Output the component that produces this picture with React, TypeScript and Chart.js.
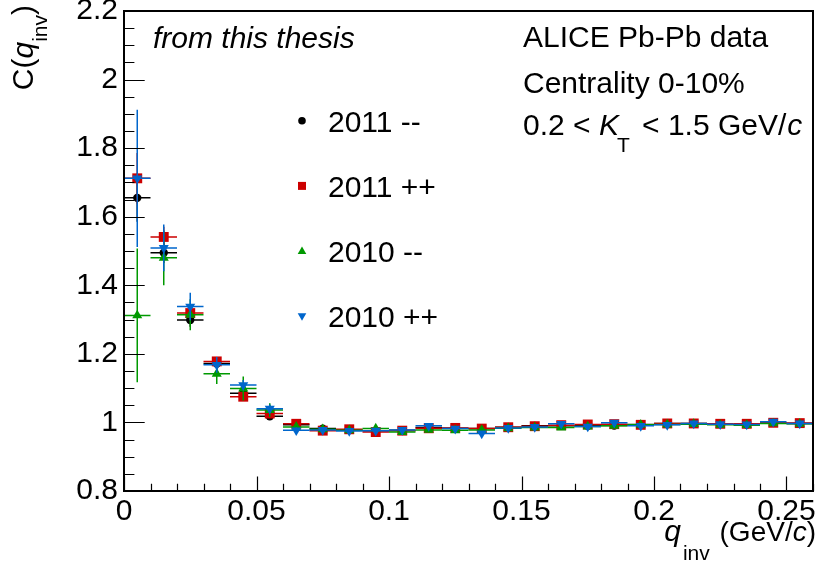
import React, { useEffect, useRef } from "react";
import { Chart, registerables } from "chart.js";

Chart.register(...registerables);

// ---- data ----
const Q_INV = [
  0.005, 0.015, 0.025, 0.035, 0.045, 0.055, 0.065, 0.075, 0.085, 0.095, 0.105, 0.115, 0.125,
  0.135, 0.145, 0.155, 0.165, 0.175, 0.185, 0.195, 0.205, 0.215, 0.225, 0.235, 0.245, 0.255,
];
const HALF_BIN = 0.005;

const C_2011_MM = [
  1.655, 1.495, 1.299, 1.172, 1.085, 1.018, 0.993, 0.982, 0.978, 0.976, 0.977, 0.985, 0.983,
  0.982, 0.986, 0.99, 0.99, 0.99, 0.991, 0.994, 0.997, 0.997, 0.995, 0.994, 0.999, 0.997,
];
const E_2011_MM = [
  0.07, 0.03, 0.02, 0.012, 0.01, 0.008, 0.006, 0.005, 0.005, 0.005, 0.005, 0.005, 0.005,
  0.005, 0.005, 0.005, 0.005, 0.005, 0.005, 0.005, 0.005, 0.005, 0.005, 0.005, 0.005, 0.005,
];
const C_2011_PP = [
  1.712, 1.541, 1.319, 1.178, 1.075, 1.026, 0.996, 0.976, 0.98, 0.972, 0.976, 0.983, 0.984,
  0.982, 0.986, 0.989, 0.992, 0.994, 0.995, 0.993, 0.997, 0.997, 0.996, 0.996, 0.999, 0.998,
];
const E_2011_PP = [
  0.074, 0.03, 0.02, 0.012, 0.01, 0.008, 0.006, 0.005, 0.005, 0.005, 0.005, 0.005, 0.005,
  0.005, 0.005, 0.005, 0.005, 0.005, 0.005, 0.005, 0.005, 0.005, 0.005, 0.005, 0.005, 0.005,
];
const C_2010_MM = [
  1.312, 1.48, 1.314, 1.142, 1.099, 1.036, 0.987, 0.98, 0.977, 0.982, 0.972, 0.978, 0.977,
  0.978, 0.983, 0.985, 0.985, 0.988, 0.99, 0.993, 0.994, 0.995, 0.993, 0.992, 0.997, 0.996,
];
const E_2010_MM = [
  0.195, 0.08, 0.045, 0.03, 0.035, 0.02, 0.012, 0.01, 0.008, 0.007, 0.007, 0.007, 0.007,
  0.007, 0.007, 0.007, 0.007, 0.007, 0.007, 0.007, 0.007, 0.007, 0.007, 0.007, 0.007, 0.007,
];
const C_2010_PP = [
  1.712, 1.509, 1.338, 1.168, 1.109, 1.04, 0.977, 0.978, 0.975, 0.976, 0.978, 0.99, 0.982,
  0.968, 0.984, 0.987, 0.996, 0.988, 0.999, 0.99, 0.993, 0.997, 0.995, 0.994, 1.002, 0.997,
];
const E_2010_PP = [
  0.2, 0.068, 0.04, 0.023, 0.015, 0.012, 0.008, 0.006, 0.006, 0.006, 0.006, 0.006, 0.006,
  0.006, 0.006, 0.006, 0.006, 0.006, 0.006, 0.006, 0.006, 0.006, 0.006, 0.006, 0.006, 0.006,
];

const SERIES_LABELS = ["2011 --", "2011 ++", "2010 --", "2010 ++"];
const X_TICKS = [0, 0.05, 0.1, 0.15, 0.2, 0.25];
const Y_TICKS = [0.8, 1, 1.2, 1.4, 1.6, 1.8, 2, 2.2];
const X_MINOR_STEP = 0.01;
const Y_MINOR_STEP = 0.05;

// ---- styles ----
const FONT = "'Liberation Sans', Arial, Helvetica, sans-serif";
const COLORS = ["#000000", "#cc0000", "#009900", "#0066cc"];
const STYLES = [
  { pointStyle: "circle", radius: 4.2, rotation: 0 },
  { pointStyle: "rect", radius: 7, rotation: 0 },
  { pointStyle: "triangle", radius: 5.8, rotation: 0 },
  { pointStyle: "triangle", radius: 5.8, rotation: 180 },
];
const VALUES = [C_2011_MM, C_2011_PP, C_2010_MM, C_2010_PP];
const ERRORS = [E_2011_MM, E_2011_PP, E_2010_MM, E_2010_PP];

const fmt = (v: number) => String(Number(v.toFixed(3)));

const errorBarPlugin = {
  id: "errorBars",
  beforeDatasetDraw(chart: any, args: any) {
    const i = args.index;
    const ds = chart.data.datasets[i];
    const errs: number[] = ds.errors;
    const xs = chart.scales.x;
    const ys = chart.scales.y;
    const ctx = chart.ctx;
    const a = chart.chartArea;
    ctx.save();
    ctx.beginPath();
    ctx.rect(a.left, a.top, a.right - a.left, a.bottom - a.top);
    ctx.clip();
    ctx.strokeStyle = ds.borderColor;
    ctx.lineWidth = 1.5;
    ds.data.forEach((p: any, j: number) => {
      const x = xs.getPixelForValue(p.x);
      const y = ys.getPixelForValue(p.y);
      ctx.beginPath();
      ctx.moveTo(xs.getPixelForValue(p.x - HALF_BIN), y);
      ctx.lineTo(xs.getPixelForValue(p.x + HALF_BIN), y);
      ctx.moveTo(x, ys.getPixelForValue(p.y - errs[j]));
      ctx.lineTo(x, ys.getPixelForValue(p.y + errs[j]));
      ctx.stroke();
    });
    ctx.restore();
  },
};

function drawMarker(ctx: CanvasRenderingContext2D, kind: number, x: number, y: number, color: string) {
  ctx.fillStyle = color;
  ctx.beginPath();
  if (kind === 0) {
    ctx.arc(x, y, 3.8, 0, Math.PI * 2);
  } else if (kind === 1) {
    ctx.rect(x - 4, y - 4, 8, 8);
  } else if (kind === 2) {
    ctx.moveTo(x, y - 4.5);
    ctx.lineTo(x + 4.3, y + 3);
    ctx.lineTo(x - 4.3, y + 3);
    ctx.closePath();
  } else {
    ctx.moveTo(x, y + 4.5);
    ctx.lineTo(x + 4.3, y - 3);
    ctx.lineTo(x - 4.3, y - 3);
    ctx.closePath();
  }
  ctx.fill();
}

type Run = { t: string; italic?: boolean; size?: number; dy?: number; dx?: number };

function runsWidth(ctx: CanvasRenderingContext2D, runs: Run[]) {
  let w = 0;
  for (const r of runs) {
    ctx.font = `${r.italic ? "italic " : ""}${r.size || 30}px ${FONT}`;
    w += (r.dx || 0) + ctx.measureText(r.t).width;
  }
  return w;
}

function drawRuns(ctx: CanvasRenderingContext2D, runs: Run[], x: number, y: number) {
  let cx = x;
  for (const r of runs) {
    ctx.font = `${r.italic ? "italic " : ""}${r.size || 30}px ${FONT}`;
    cx += r.dx || 0;
    ctx.fillText(r.t, cx, y + (r.dy || 0));
    cx += ctx.measureText(r.t).width;
  }
}

const framePlugin = {
  id: "rootFrame",
  afterDraw(chart: any) {
    const ctx: CanvasRenderingContext2D = chart.ctx;
    const a = chart.chartArea;
    const xs = chart.scales.x;
    const ys = chart.scales.y;
    ctx.save();
    ctx.strokeStyle = "#000";
    ctx.lineWidth = 1.2;
    // x ticks (inward)
    ctx.beginPath();
    for (let k = 0; ; k++) {
      const v = xs.min + k * X_MINOR_STEP;
      if (v > xs.max + 1e-9) break;
      const major = X_TICKS.some((t) => Math.abs(t - v) < 1e-9);
      const px = Math.round(xs.getPixelForValue(v)) + 0.5;
      ctx.moveTo(px, a.bottom);
      ctx.lineTo(px, a.bottom - (major ? 14.4 : 7.2));
    }
    // y ticks (inward)
    for (let k = 0; ; k++) {
      const v = ys.min + k * Y_MINOR_STEP;
      if (v > ys.max + 1e-9) break;
      const major = Y_TICKS.some((t) => Math.abs(t - v) < 1e-9);
      const py = Math.round(ys.getPixelForValue(v)) + 0.5;
      ctx.moveTo(a.left, py);
      ctx.lineTo(a.left + (major ? 20.7 : 10.4), py);
    }
    ctx.stroke();
    // frame
    ctx.lineWidth = 2;
    ctx.strokeRect(a.left, a.top, a.right - a.left, a.bottom - a.top);

    ctx.fillStyle = "#000";
    ctx.textBaseline = "alphabetic";
    ctx.textAlign = "left";
    // annotations
    drawRuns(ctx, [{ t: "from this thesis", italic: true }], 153, 48);
    drawRuns(ctx, [{ t: "ALICE Pb-Pb data" }], 523, 47);
    drawRuns(ctx, [{ t: "Centrality 0-10%" }], 523, 93);
    drawRuns(
      ctx,
      [
        { t: "0.2 < " },
        { t: "K", italic: true },
        { t: "T", size: 21, dy: 17, dx: -2 },
        { t: " < 1.5 GeV/", dx: 4 },
        { t: "c", italic: true, dx: 1 },
      ],
      523,
      135
    );

    // legend
    SERIES_LABELS.forEach((lab, i) => {
      const base = 131.7 + i * 65.2;
      drawMarker(ctx, i, 302, base - 11, COLORS[i]);
      ctx.fillStyle = "#000";
      drawRuns(ctx, [{ t: lab }], 328, base);
    });

    // x title
    const xt: Run[] = [
      { t: "q", italic: true, size: 30 },
      { t: "inv", size: 21, dy: 19, dx: 2 },
      { t: " (GeV/", size: 28, dx: 2 },
      { t: "c", italic: true, size: 28 },
      { t: ")", size: 28 },
    ];
    const xw = runsWidth(ctx, xt);
    drawRuns(ctx, xt, 816 - xw, 541);

    // y title
    const yt: Run[] = [
      { t: "C(" },
      { t: "q", italic: true },
      { t: "inv", size: 21, dy: 14 },
      { t: ")" },
    ];
    const yw = runsWidth(ctx, yt);
    ctx.translate(33, 5 + yw);
    ctx.rotate(-Math.PI / 2);
    drawRuns(ctx, yt, 0, 0);
    ctx.restore();
  },
};

export default function App() {
  const ref = useRef<HTMLCanvasElement | null>(null);
  useEffect(() => {
    if (!ref.current) return;
    const datasets = VALUES.map((vals, i) => ({
      label: SERIES_LABELS[i],
      data: Q_INV.map((q, j) => ({ x: q, y: vals[j] })),
      errors: ERRORS[i],
      borderColor: COLORS[i],
      backgroundColor: COLORS[i],
      pointStyle: STYLES[i].pointStyle,
      pointRadius: STYLES[i].radius,
      pointRotation: STYLES[i].rotation,
      pointBorderWidth: 0,
      pointHoverRadius: STYLES[i].radius,
      order: 4 - i,
    }));
    const chart = new Chart(ref.current, {
      type: "scatter",
      data: { datasets: datasets as any },
      options: {
        responsive: false,
        animation: false,
        devicePixelRatio: 1,
        layout: { padding: { top: 11, right: 5, left: 0, bottom: 0 } },
        plugins: { legend: { display: false }, tooltip: { enabled: false } },
        scales: {
          x: {
            type: "linear",
            min: 0,
            max: 0.26,
            grid: { display: false, drawTicks: false },
            border: { display: false },
            afterBuildTicks: (s: any) => {
              s.ticks = X_TICKS.map((v) => ({ value: v }));
            },
            afterFit: (s: any) => {
              s.height = 77;
              s.paddingLeft = 0;
              s.paddingRight = 0;
            },
            ticks: {
              autoSkip: false,
              maxRotation: 0,
              padding: 3,
              color: "#000",
              font: { family: FONT, size: 30 },
              callback: (v: any) => fmt(Number(v)),
            },
          },
          y: {
            type: "linear",
            min: 0.8,
            max: 2.2,
            grid: { display: false, drawTicks: false },
            border: { display: false },
            afterBuildTicks: (s: any) => {
              s.ticks = Y_TICKS.map((v) => ({ value: v }));
            },
            afterFit: (s: any) => {
              s.width = 124;
              s.paddingTop = 0;
              s.paddingBottom = 0;
            },
            ticks: {
              autoSkip: false,
              padding: 6,
              color: "#000",
              font: { family: FONT, size: 30 },
              callback: (v: any) => fmt(Number(v)),
            },
          },
        },
      },
      plugins: [errorBarPlugin, framePlugin],
    });
    return () => chart.destroy();
  }, []);
  return (
    <div style={{ position: "fixed", left: 0, top: 0, width: 820, height: 568, background: "#fff" }}>
      <canvas ref={ref} width={820} height={568} style={{ width: 820, height: 568, display: "block" }} />
    </div>
  );
}
